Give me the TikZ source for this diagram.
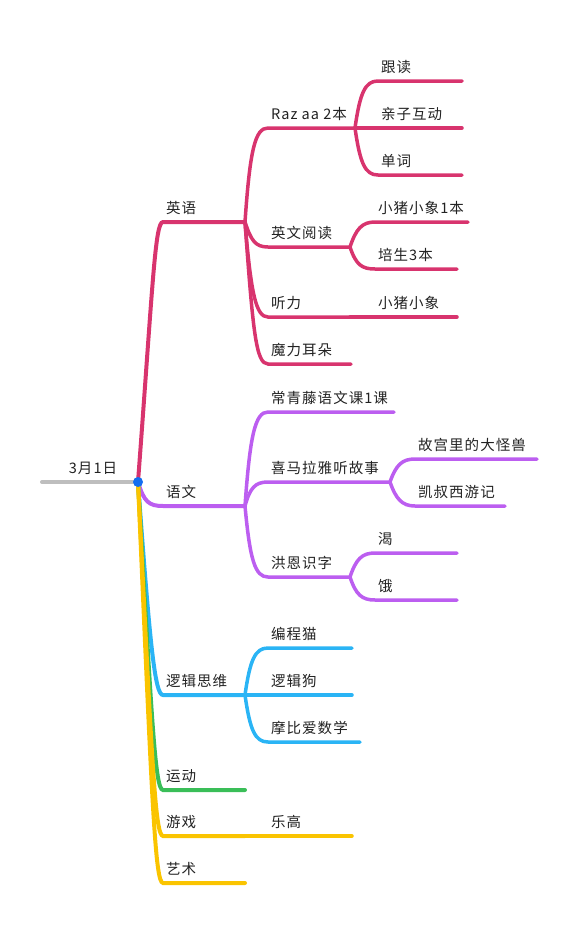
\documentclass[tikz,border=0pt]{standalone}
\usepackage{fontspec}
\newfontfamily\mapfont[LetterSpace=7]{Noto Sans CJK SC}
\definecolor{mapPink}{RGB}{216,52,110}
\definecolor{mapPurple}{RGB}{188,94,240}
\definecolor{mapBlue}{RGB}{42,180,245}
\definecolor{mapGreen}{RGB}{58,190,88}
\definecolor{mapYellow}{RGB}{250,196,0}
\definecolor{mapGray}{RGB}{190,190,190}
\definecolor{mapDot}{RGB}{20,110,240}
\definecolor{mapText}{RGB}{34,34,34}

\begin{document}
\begin{tikzpicture}[x=1pt, y=-1pt,
lbl/.style={anchor=base west, inner sep=0pt, xshift=3pt, yshift=9pt,
text=mapText, font=\mapfont\fontsize{14.5}{16}\selectfont},
br/.style={line width=4pt, line cap=round},
sub/.style={line width=3.5pt, line cap=round}]
\useasboundingbox (0,0) rectangle (578,927);

% centre
\coordinate (start) at (42,482);
\coordinate (root) at (138,482);
\node[lbl, anchor=base, xshift=0pt] (date) at (90,482) {3月1日};
\draw[br, mapGray] (start) -- (root);

% first level
\coordinate (en) at (163,222);  \coordinate (en-e) at (245,222);
\coordinate (cn) at (163,506);  \coordinate (cn-e) at (245,506);
\coordinate (lg) at (163,695);  \coordinate (lg-e) at (245,695);
\coordinate (sp) at (163,790);  \coordinate (sp-e) at (245,790);
\coordinate (gm) at (163,836);  \coordinate (gm-e) at (245,836);
\coordinate (art) at (163,883); \coordinate (art-e) at (245,883);
\node[lbl] (en-t) at (en) {英语};
\node[lbl] (cn-t) at (cn) {语文};
\node[lbl] (lg-t) at (lg) {逻辑思维};
\node[lbl] (sp-t) at (sp) {运动};
\node[lbl] (gm-t) at (gm) {游戏};
\node[lbl] (art-t) at (art) {艺术};

% english
\coordinate (raz) at (268,128); \coordinate (raz-e) at (355,128);
\coordinate (rd) at (268,247);  \coordinate (rd-e) at (350,247);
\coordinate (ls) at (268,317);  \coordinate (ls-e) at (350,317);
\coordinate (mo) at (268,364);  \coordinate (mo-e) at (351,364);
\node[lbl] (raz-t) at (raz) {Raz aa 2本};
\node[lbl] (rd-t) at (rd) {英文阅读};
\node[lbl] (ls-t) at (ls) {听力};
\node[lbl] (mo-t) at (mo) {魔力耳朵};
\coordinate (gd) at (378,81);   \coordinate (gd-e) at (462,81);
\coordinate (qz) at (378,128);  \coordinate (qz-e) at (462,128);
\coordinate (dc) at (378,175);  \coordinate (dc-e) at (462,175);
\coordinate (xz1) at (375,222); \coordinate (xz1-e) at (468,222);
\coordinate (ps) at (375,269);  \coordinate (ps-e) at (457,269);
\coordinate (xz) at (375,317);  \coordinate (xz-e) at (457,317);
\node[lbl] (gd-t) at (gd) {跟读};
\node[lbl] (qz-t) at (qz) {亲子互动};
\node[lbl] (dc-t) at (dc) {单词};
\node[lbl] (xz1-t) at (xz1) {小猪小象1本};
\node[lbl] (ps-t) at (ps) {培生3本};
\node[lbl] (xz-t) at (xz) {小猪小象};

% chinese
\coordinate (cq) at (268,412);  \coordinate (cq-e) at (394,412);
\coordinate (xm) at (268,482);  \coordinate (xm-e) at (390,482);
\coordinate (hy) at (268,577);  \coordinate (hy-e) at (350,577);
\coordinate (gg) at (415,459);  \coordinate (gg-e) at (537,459);
\coordinate (ks) at (415,506);  \coordinate (ks-e) at (505,506);
\coordinate (ke) at (375,553);  \coordinate (ke-e) at (457,553);
\coordinate (ee) at (375,600);  \coordinate (ee-e) at (457,600);
\node[lbl] (cq-t) at (cq) {常青藤语文课1课};
\node[lbl] (xm-t) at (xm) {喜马拉雅听故事};
\node[lbl] (hy-t) at (hy) {洪恩识字};
\node[lbl] (gg-t) at (gg) {故宫里的大怪兽};
\node[lbl] (ks-t) at (ks) {凯叔西游记};
\node[lbl] (ke-t) at (ke) {渴};
\node[lbl] (ee-t) at (ee) {饿};

% logic, games
\coordinate (bc) at (268,648);  \coordinate (bc-e) at (352,648);
\coordinate (lj) at (268,695);  \coordinate (lj-e) at (352,695);
\coordinate (mb) at (268,742);  \coordinate (mb-e) at (360,742);
\coordinate (lego) at (268,836); \coordinate (lego-e) at (352,836);
\node[lbl] (bc-t) at (bc) {编程猫};
\node[lbl] (lj-t) at (lj) {逻辑狗};
\node[lbl] (mb-t) at (mb) {摩比爱数学};
\node[lbl] (lego-t) at (lego) {乐高};

% branches
\draw[br, mapPink] (root) .. controls +(15,-200) and +(-8,0) .. (en) -- (en-e);
\draw[sub, mapPink] (en-e) .. controls +(5,-72) and +(-13,0) .. (raz) -- (raz-e);
\draw[sub, mapPink] (en-e) .. controls +(6,18) and +(-13,0) .. (rd) -- (rd-e);
\draw[sub, mapPink] (en-e) .. controls +(6,72) and +(-12,0) .. (ls) -- (ls-e);
\draw[sub, mapPink] (en-e) .. controls +(8,110) and +(-12,0) .. (mo) -- (mo-e);
\draw[sub, mapPink] (raz-e) .. controls +(5,-35) and +(-13,0) .. (gd) -- (gd-e);
\draw[sub, mapPink] (raz-e) -- (qz) -- (qz-e);
\draw[sub, mapPink] (raz-e) .. controls +(5,35) and +(-13,0) .. (dc) -- (dc-e);
\draw[sub, mapPink] (rd-e) .. controls +(6,-18) and +(-13,0) .. (xz1) -- (xz1-e);
\draw[sub, mapPink] (rd-e) .. controls +(6,18) and +(-13,0) .. (ps) -- (ps-e);
\draw[sub, mapPink] (ls-e) -- (xz) -- (xz-e);

\draw[br, mapPurple] (root) .. controls +(6,20) and +(-14,0) .. (cn) -- (cn-e);
\draw[sub, mapPurple] (cn-e) .. controls +(5,-70) and +(-13,0) .. (cq) -- (cq-e);
\draw[sub, mapPurple] (cn-e) .. controls +(5,-18) and +(-13,0) .. (xm) -- (xm-e);
\draw[sub, mapPurple] (cn-e) .. controls +(5,54) and +(-13,0) .. (hy) -- (hy-e);
\draw[sub, mapPurple] (xm-e) .. controls +(6,-17) and +(-13,0) .. (gg) -- (gg-e);
\draw[sub, mapPurple] (xm-e) .. controls +(6,17) and +(-13,0) .. (ks) -- (ks-e);
\draw[sub, mapPurple] (hy-e) .. controls +(6,-18) and +(-13,0) .. (ke) -- (ke-e);
\draw[sub, mapPurple] (hy-e) .. controls +(6,18) and +(-13,0) .. (ee) -- (ee-e);

\draw[br, mapBlue] (root) .. controls +(12,165) and +(-8,0) .. (lg) -- (lg-e);
\draw[sub, mapBlue] (lg-e) .. controls +(5,-35) and +(-13,0) .. (bc) -- (bc-e);
\draw[sub, mapBlue] (lg-e) -- (lj) -- (lj-e);
\draw[sub, mapBlue] (lg-e) .. controls +(5,35) and +(-13,0) .. (mb) -- (mb-e);

\draw[br, mapGreen] (root) .. controls +(14,240) and +(-8,0) .. (sp) -- (sp-e);
\draw[br, mapYellow] (root) .. controls +(14,280) and +(-8,0) .. (gm) -- (gm-e);
\draw[sub, mapYellow] (gm-e) -- (lego) -- (lego-e);
\draw[br, mapYellow] (root) .. controls +(14,320) and +(-8,0) .. (art) -- (art-e);

\fill[mapDot] (root) circle (5pt);
\end{tikzpicture}
\end{document}
